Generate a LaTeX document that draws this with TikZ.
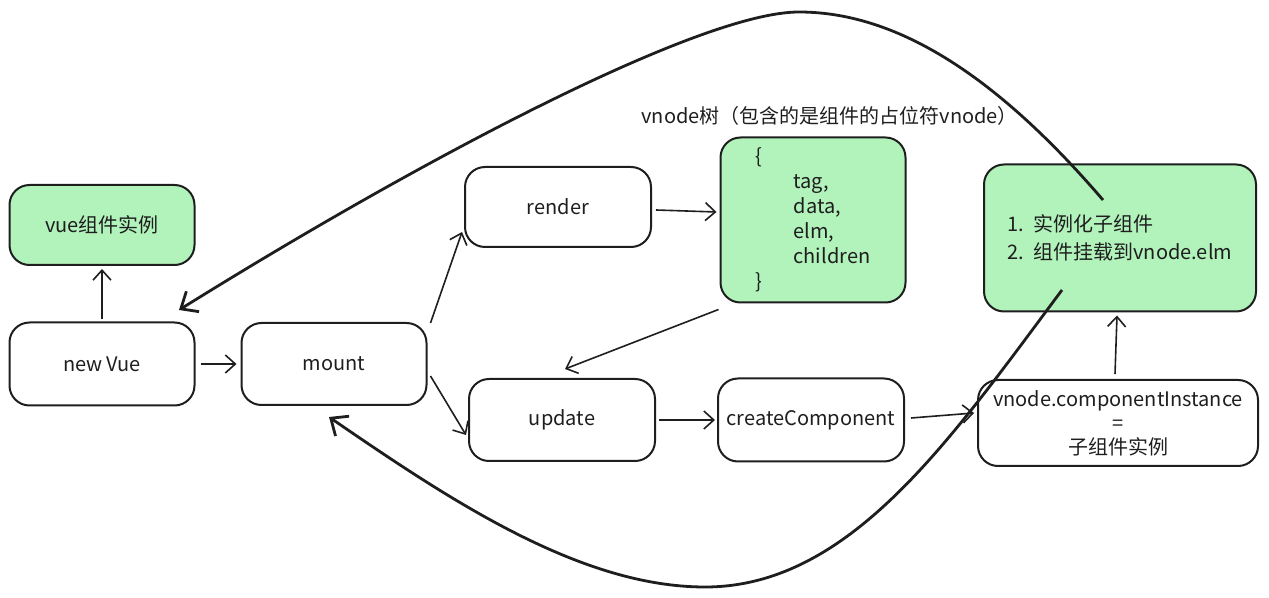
\documentclass[tikz,border=0pt]{standalone}
\usepackage{fontspec}
\setmainfont{Noto Sans CJK SC}
\usetikzlibrary{arrows.meta}
\definecolor{ink}{HTML}{1E1E1E}
\definecolor{mint}{HTML}{B2F2BB}
\begin{document}
\begin{tikzpicture}[x=0.5pt,y=-0.5pt,
  box/.style={draw=ink, line width=1pt, rounded corners=10pt, align=center,
    text=ink, font=\fontsize{10pt}{12pt}\selectfont, inner sep=0pt},
  gbox/.style={box, fill=mint},
  arr/.style={draw=ink, line width=0.8pt, -{Straight Barb[length=5pt,width=9pt,line width=0.8pt]}},
  bigarr/.style={draw=ink, line width=1.4pt, -{Straight Barb[length=7pt,width=12pt,line width=1.4pt]}},
  lbl/.style={text=ink, font=\fontsize{10pt}{12pt}\selectfont, inner sep=0pt}]
\useasboundingbox (0,0) rectangle (1269,598);

\node[gbox, minimum width=92.5pt, minimum height=40pt] (inst) at (102,225) {vue组件实例};
\node[box, minimum width=92.5pt, minimum height=41.5pt] (newvue) at (102,364) {new Vue};
\node[box, minimum width=92.5pt, minimum height=41pt] (mount) at (334,364) {mount};
\node[box, minimum width=93pt, minimum height=40pt] (render) at (558,207) {render};
\node[gbox, minimum width=92.5pt, minimum height=82.5pt, font=\fontsize{10pt}{12.5pt}\selectfont, align=left] (vtree) at (813,220)
  {\{\\\hspace*{19pt}tag,\\\hspace*{19pt}data,\\\hspace*{19pt}elm,\\\hspace*{19pt}children\\\}};
\node[box, minimum width=93pt, minimum height=41pt] (update) at (562,420) {update};
\node[box, minimum width=93pt, minimum height=41.5pt] (create) at (811,420) {createComponent};
\node[gbox, minimum width=136pt, minimum height=73.5pt, font=\fontsize{10pt}{14pt}\selectfont, align=left] (green) at (1120,238)
  {1.\ \ 实例化子组件\\2.\ \ 组件挂载到vnode.elm};
\node[box, minimum width=140pt, minimum height=43pt] (inst2) at (1118,423)
  {vnode.componentInstance\\=\\子组件实例};

\node[lbl, anchor=west] (title) at (641,116) {vnode树（包含的是组件的占位符vnode）};

\draw[arr] ([yshift=1pt]newvue.north) -- ([yshift=-1.5pt]inst.south);
\draw[arr] ([xshift=2.5pt]newvue.east) -- ([xshift=-2pt]mount.east -| mount.west);
\draw[arr] ([xshift=1.5pt,yshift=-0.5pt]mount.north east) -- ([xshift=-1pt,yshift=-12.5pt]render.west);
\draw[arr] ([xshift=1.5pt,yshift=-6pt]mount.east) -- ([xshift=-1pt,yshift=-7.5pt]update.west);
\draw[arr] ([xshift=2pt,yshift=-1.5pt]render.east) -- ([xshift=-1.5pt,yshift=4pt]vtree.west);
\draw[arr] ([xshift=-0.5pt,yshift=-3pt]vtree.south west) -- ([xshift=1.5pt,yshift=4.5pt]update.north);
\draw[arr] ([xshift=1.5pt]update.east) -- ([xshift=-1pt]create.west);
\draw[arr] ([xshift=3pt,yshift=1pt]create.east) -- ([xshift=-1.5pt,yshift=5pt]inst2.west);
\draw[arr] ([xshift=-1.5pt,yshift=2.5pt]inst2.north) -- ([xshift=-1.5pt,yshift=-1.5pt]green.south);

\coordinate (topstart) at (1103,200);
\coordinate (topmid) at (799,12);
\coordinate (topend) at (179,310);
\coordinate (botstart) at (1062,290);
\coordinate (botmid) at (705,587);
\coordinate (botend) at (329,417);
\draw[bigarr] (topstart) .. controls (1000,80) and (900,12) .. (topmid)
  .. controls (700,12) and (420,160) .. (topend);
\draw[bigarr] (botstart) .. controls (950,440) and (850,587) .. (botmid)
  .. controls (580,587) and (450,500) .. (botend);
\end{tikzpicture}
\end{document}
